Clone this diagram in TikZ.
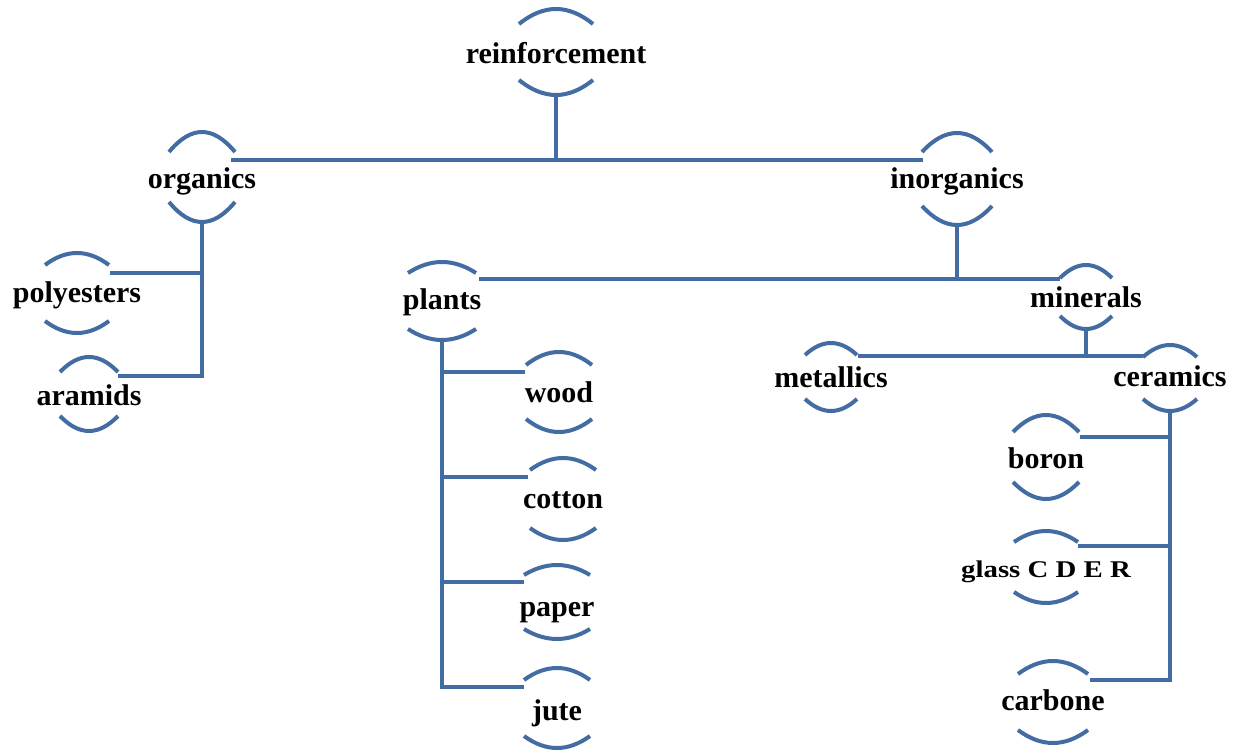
\documentclass[tikz,border=0pt]{standalone}
\usepackage{fontspec}
\usepackage{graphicx}
\setmainfont{Liberation Serif}
\definecolor{treeblue}{RGB}{67,108,163}
\tikzset{
  lbl/.style={font=\fontsize{30}{32}\selectfont\bfseries, anchor=base, inner sep=0pt, text=black},
  arcln/.style={draw=treeblue, line width=4pt},
  conn/.style={draw=treeblue, line width=4pt},
}
% name, cx, cy, w, h, s, baseline offset, text
\newcommand\treenode[8]{%
  \node[lbl] (#1) at (#2,#3+#7) {#8};
  \coordinate (#1-t) at (#2,#3-#5);
  \coordinate (#1-b) at (#2,#3+#5);
  \draw[arcln] (#2-#4,#3-#5+#6) .. controls (#2-#4/3,#3-#5-#6/3) and (#2+#4/3,#3-#5-#6/3) .. (#2+#4,#3-#5+#6);
  \draw[arcln] (#2-#4,#3+#5-#6) .. controls (#2-#4/3,#3+#5+#6/3) and (#2+#4/3,#3+#5+#6/3) .. (#2+#4,#3+#5-#6);
}
\begin{document}
\begin{tikzpicture}[x=1pt,y=-1pt]
\useasboundingbox (0,0) rectangle (1237,751);
\treenode{reinforcement}{556}{52}{37}{43}{15}{12}{reinforcement}
\treenode{organics}{202}{177}{33}{45}{20}{12}{organics}
\treenode{inorganics}{957}{179}{35}{46}{19}{10}{inorganics}
\treenode{polyesters}{77}{293}{32}{40}{12}{10}{polyesters}
\treenode{aramids}{89}{394}{29}{37}{15}{11}{aramids}
\treenode{plants}{442}{301}{34}{39}{11}{9}{plants}
\treenode{minerals}{1086}{297}{26}{32}{13}{11}{minerals}
\treenode{metallics}{831}{377}{26}{34}{12}{10}{metallics}
\treenode{ceramics}{1170}{378}{27}{33}{12}{8}{ceramics}
\treenode{wood}{559}{392}{33}{40}{13}{10}{wood}
\treenode{cotton}{563}{499}{33}{41}{12}{9}{cotton}
\treenode{paper}{557}{602}{33}{37}{10}{14}{paper}
\treenode{jute}{557}{708}{33}{40}{12}{12}{jute}
\treenode{boron}{1046}{457}{33}{42}{17}{11}{boron}
\treenode{glass}{1046}{567}{32}{36}{11}{10}{{\fontsize{24}{26}\selectfont\scalebox{1.2}[1]{glass C D E R}}}
\treenode{carbone}{1053}{702}{35}{41}{13}{8}{carbone}
% connection points
\coordinate (organics-r) at (231,160);
\coordinate (inorganics-l) at (923,160);
\coordinate (polyesters-r) at (110,273);
\coordinate (aramids-r) at (118,376);
\coordinate (plants-r) at (479,279);
\coordinate (minerals-l) at (1060,279);
\coordinate (metallics-r) at (858,356);
\coordinate (ceramics-l) at (1143,356);
\coordinate (wood-l) at (525,372);
\coordinate (cotton-l) at (528,477);
\coordinate (paper-l) at (524,582);
\coordinate (jute-l) at (524,687);
\coordinate (boron-r) at (1080,437);
\coordinate (glass-r) at (1078,546);
\coordinate (carbone-r) at (1090,680);
% connectors
\draw[conn] (reinforcement-b) -- (reinforcement-b |- organics-r);
\draw[conn] (organics-r) -- (inorganics-l);
\draw[conn] (organics-b) |- (aramids-r);
\draw[conn] (polyesters-r) -- (polyesters-r -| organics-b);
\draw[conn] (inorganics-b) -- (inorganics-b |- plants-r);
\draw[conn] (plants-r) -- (minerals-l);
\draw[conn] (minerals-b) -- (minerals-b |- metallics-r);
\draw[conn] (metallics-r) -- (ceramics-l);
\draw[conn] (plants-b) |- (jute-l);
\draw[conn] (wood-l) -- (wood-l -| plants-b);
\draw[conn] (cotton-l) -- (cotton-l -| plants-b);
\draw[conn] (paper-l) -- (paper-l -| plants-b);
\draw[conn] (ceramics-b) |- (carbone-r);
\draw[conn] (boron-r) -- (boron-r -| ceramics-b);
\draw[conn] (glass-r) -- (glass-r -| ceramics-b);
\end{tikzpicture}
\end{document}
